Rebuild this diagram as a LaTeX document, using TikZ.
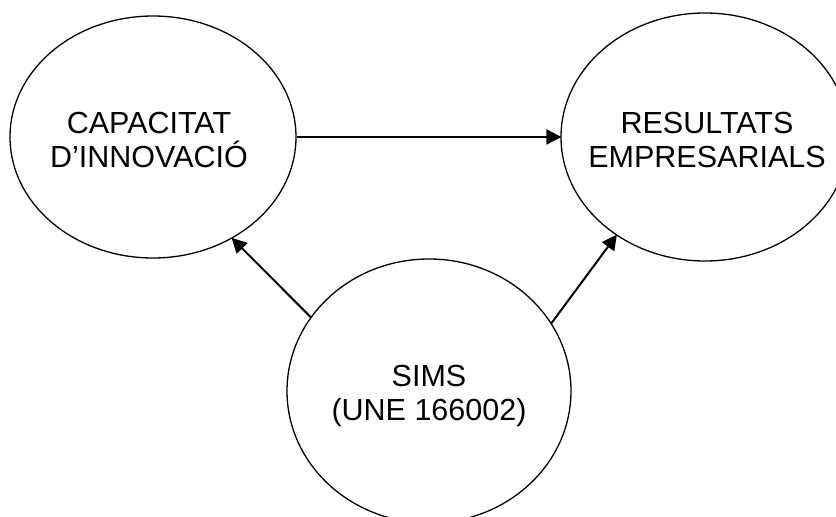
\documentclass[tikz,border=0pt]{standalone}
\usepackage{fontspec}
\setmainfont{Liberation Sans}
\usetikzlibrary{shapes.geometric,arrows.meta}
\begin{document}
\begin{tikzpicture}[x=1pt,y=-1pt,
  bubble/.style={draw, ellipse, line width=1.3pt, inner sep=0pt},
  caption/.style={align=center, inner sep=0pt, yshift=-3pt,
    font=\fontsize{30.5}{34}\selectfont},
  link/.style={line width=2pt, -{Triangle[length=15pt,width=15pt]}, shorten >=-1pt}]
  \useasboundingbox (0,0) rectangle (836,517);
  % the three ellipses
  \node[bubble, minimum width=286pt, minimum height=242pt] (cap) at (153,137) {};
  \node[bubble, minimum width=288pt, minimum height=248pt] (res) at (705,137) {};
  \node[bubble, minimum width=284pt, minimum height=264pt] (sims) at (429,391) {};
  % their captions
  \node[caption, xshift=-4pt] (captext) at (cap.center) {CAPACITAT\\D’INNOVACIÓ};
  \node[caption, xshift=2pt] (restext) at (res.center) {RESULTATS\\EMPRESARIALS};
  \node[caption, yshift=-2pt] (simstext) at (sims.center) {SIMS\\(UNE 166002)};
  % influences
  \draw[link] (cap.0) -- (res.180);
  \draw[link] (sims.148.8) -- (cap.-52.6);
  \draw[link] (sims.29.1) -- (res.228.8);
\end{tikzpicture}
\end{document}
